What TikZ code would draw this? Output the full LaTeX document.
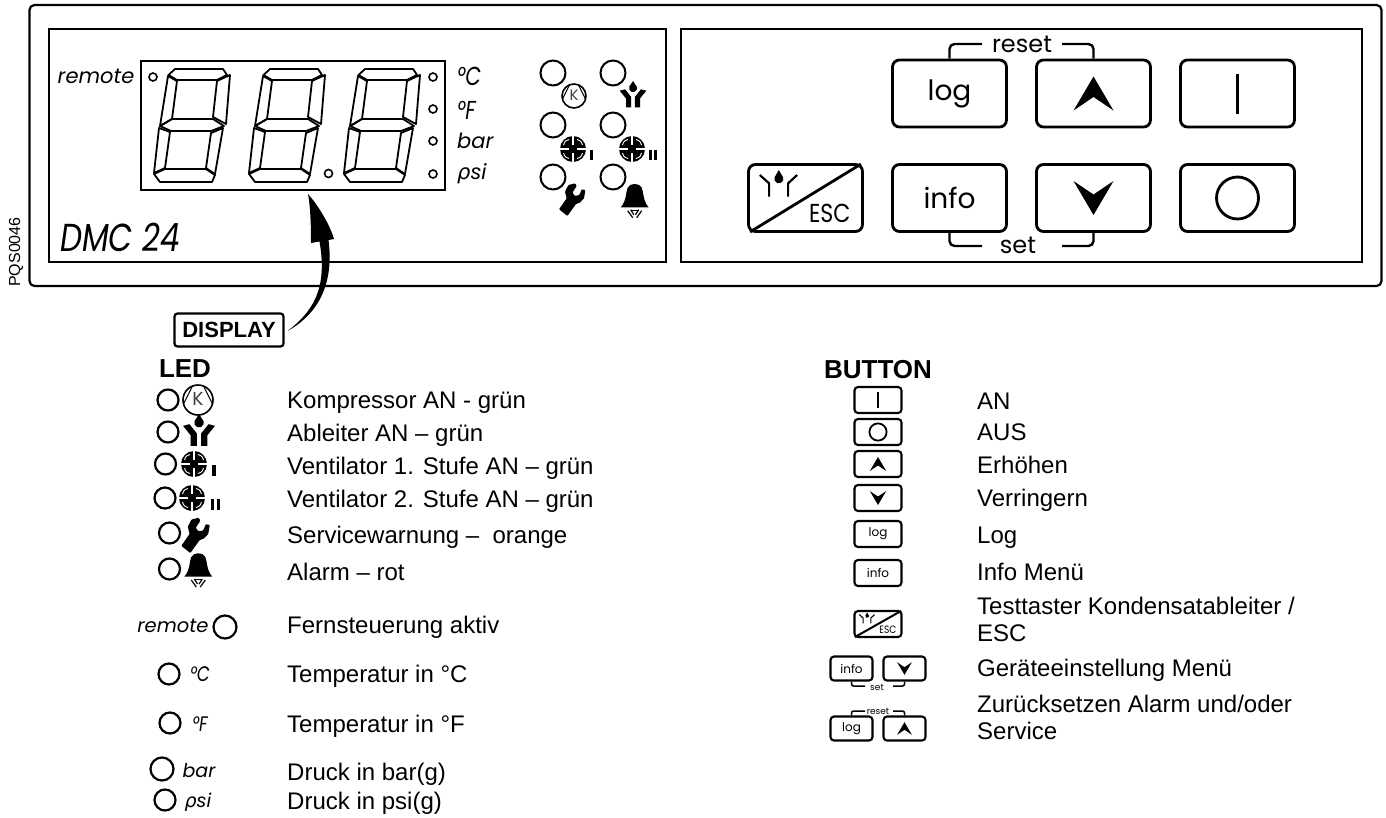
\documentclass[tikz,border=0pt]{standalone}
\usepackage{fontspec}
\setmainfont{Liberation Sans}
\newfontfamily\panelfont{Poppins}
\newfontfamily\greekfont{DejaVu Sans}
\usetikzlibrary{calc,positioning}

\newcommand{\rhosi}{{\greekfont\itshape ρ}si}

\tikzset{
  panelbox/.style={draw,rectangle,line width=2.2pt,inner sep=0pt},
  btn/.style={draw,rectangle,rounded corners=7,line width=2.8pt,inner sep=0pt,minimum width=114,minimum height=67,font=\panelfont\fontsize{28}{28}\selectfont},
  btnsmall/.style={draw,rectangle,rounded corners=3.5,line width=2.1pt,inner sep=0pt,minimum width=47,minimum height=26,font=\panelfont\fontsize{12}{12}\selectfont},
  btnpair/.style={btnsmall,minimum width=42,minimum height=24},
  bracket/.style={line width=2.4pt,rounded corners=5},
  bracketsmall/.style={line width=1.5pt,rounded corners=2},
  bigled/.style={draw,circle,line width=2pt,inner sep=0pt,minimum size=25},
  dotled/.style={draw,circle,line width=1.6pt,inner sep=0pt,minimum size=8},
  legendled/.style={draw,circle,line width=2.2pt,inner sep=0pt,minimum size=21},
  paneltext/.style={inner sep=0pt,font=\panelfont\itshape\fontsize{21}{21}\selectfont},
  unittext/.style={inner sep=0pt,anchor=west,xscale=.78,transform shape,font=\panelfont\itshape\fontsize{26}{26}\selectfont},
  legendmark/.style={inner sep=0pt,font=\panelfont\itshape\fontsize{#1}{#1}\selectfont},
  legendunit/.style={inner sep=0pt,xscale=.8,transform shape,font=\panelfont\itshape\fontsize{21}{21}\selectfont},
  legendplain/.style={anchor=west,inner sep=0pt,align=left,font=\fontsize{24}{27}\selectfont},
  legendtext/.style={legendplain,text height=17,text depth=0},
  headtext/.style={inner sep=0pt,font=\bfseries\fontsize{26}{26}\selectfont},
  % seven segment digit
  pics/digitglyph/.style={code={
    \draw[line width=1.8pt,line join=round] (-21.5,-50) -- (-15,-56) -- (33,-56) -- (37,-50) -- (27,-45) -- (-13,-45) -- cycle;
    \draw[line width=1.8pt,line join=round] (-22,-49) -- (-13,-44) -- (-18,-6) -- (-30,1) -- cycle;
    \draw[line width=1.8pt,line join=round] (40,-50) -- (36,-1) -- (23,-8) -- (27,-44) -- cycle;
    \draw[line width=1.8pt,line join=round] (-30,1) -- (-18,-6) -- (23,-6) -- (34,1) -- (21,6) -- (-19,6) -- cycle;
    \draw[line width=1.8pt,line join=round] (-31,3) -- (-20,7) -- (-25,43) -- (-36,48) -- cycle;
    \draw[line width=1.8pt,line join=round] (33,3) -- (21,8) -- (16,43) -- (25,49) -- cycle;
    \draw[line width=1.8pt,line join=round] (-36,49) -- (-25,44) -- (16,44) -- (25,50) -- (22,57) -- (-30,57) -- cycle;
  }},
  pics/comprglyph/.style={code={
    \draw[line width=1.6pt] (0,0) circle[radius=12];
    \draw[line width=1pt] (-11.5,3) -- (-4.5,-11);
    \draw[line width=1pt] (4.5,-11) -- (11.5,3);
    \node[transform shape,inner sep=0pt,text=black!75,font=\panelfont\fontsize{15}{15}\selectfont] (comprletter) at (0,-.5) {K};
  }},
  pics/drainglyph/.style={code={
    \fill (-13.3,-4.3) -- (-8,-5.7) -- (-1.8,2) -- (-1.8,12.3) -- (-7,12.3) -- (-7,3.5) -- cycle;
    \fill (13.3,-4.3) -- (8,-5.7) -- (1.8,2) -- (1.8,12.3) -- (7,12.3) -- (7,3.5) -- cycle;
    \fill (0,-14) -- (-3.76,-8.27) arc[start angle=200,end angle=-20,radius=4] -- cycle;
  }},
  pics/fanbody/.style={code={
    \fill (0,0) circle[radius=13];
    \draw[white,line width=1.3pt] (-13.5,0) -- (-4,0) (4,0) -- (13.5,0) (0,-13.5) -- (0,-4) (0,4) -- (0,13.5);
    \draw[white,line width=.9pt] (4,-9.5) .. controls (8,-8) .. (9.5,-4);
    \draw[white,line width=.9pt] (9.5,4) .. controls (8,8) .. (4,9.5);
    \draw[white,line width=.9pt] (-4,9.5) .. controls (-8,8) .. (-9.5,4);
    \draw[white,line width=.9pt] (-9.5,-4) .. controls (-8,-8) .. (-4,-9.5);
  }},
  pics/fanone/.style={code={
    \pic {fanbody};
    \fill (16.5,1) rectangle (19.5,11);
  }},
  pics/fantwo/.style={code={
    \pic {fanbody};
    \fill (17,1) rectangle (20,11);
    \fill (22,1) rectangle (25,11);
  }},
  pics/wrenchglyph/.style={code={
    \fill[rounded corners=.8] (-12.7,10) -- (-4.3,16.7) -- (4.3,4.7) -- (8.3,3.3) -- (12.3,-1) -- (13.7,-9.3) -- (10,-10) -- (7.7,-4.3) -- (3.3,-3.3) -- (.7,-6.7) -- (5,-13.3) -- (3.3,-16) -- (-3.3,-14.3) -- (-6.7,-7.7) -- (-5,-1) -- cycle;
  }},
  pics/bellglyph/.style={code={
    \fill (-14,10.7) .. controls (-8,4) and (-9,-5) .. (-7,-9) .. controls (-5,-14) and (5,-14) .. (7,-9) .. controls (9,-5) and (8,4) .. (14,10.7) -- cycle;
    \draw[line width=1.2pt] (-7,14) -- (-2,21) (-4,13) -- (-.8,18) (7,14) -- (2,21) (4,13) -- (.8,18);
    \draw[line width=1.2pt] (-3.5,13.5) -- (3.5,13.5);
  }},
  pics/arrowglyph/.style={code={
    \fill (0,-17) -- (20,17) -- (0,3.5) -- (-20,17) -- cycle;
  }},
  pics/onglyph/.style={code={
    \draw (0,-20) -- (0,20);
  }},
  pics/offglyph/.style={code={
    \draw (0,0) circle[radius=21];
  }},
  pics/escglyph/.style={code={
    \draw (-45.7,-23) -- (-36.4,-14.7) -- (-36.4,-1.3);
    \draw (-8.4,-23) -- (-17.4,-14.7) -- (-17.4,-1.3);
    \fill (-26.7,-28) -- (-30.9,-20.7) arc[start angle=200,end angle=-20,radius=4.5] -- cycle;
    \node[transform shape,xscale=.85,inner sep=0pt,font=\panelfont\fontsize{26}{26}\selectfont] (esclabel) at (24.3,15) {ESC};
  }},
}

\begin{document}
\begin{tikzpicture}[x=1pt,y=-1pt]
\useasboundingbox (0,0) rectangle (1386,817);

% front panel
\node[panelbox,rounded corners=5,minimum width=1352,minimum height=281] (frontpanel) at (705.5,145.5) {};
\node[panelbox,minimum width=617,minimum height=233] (leftpanel) at (357.5,145.5) {};
\node[panelbox,minimum width=681,minimum height=233] (rightpanel) at (1021.5,145.5) {};
\node[panelbox,minimum width=304,minimum height=129] (digitbox) at (293,125.5) {};
\node[rotate=90,inner sep=0pt,font=\fontsize{16}{16}\selectfont] (drawingno) at (16,252) {PQS0046};

\pic at (190,125) {digitglyph};
\pic at (285,125) {digitglyph};
\pic at (380,125) {digitglyph};

\node[dotled] (dotremote) at (153,77) {};
\node[dotled] (dotpoint) at (328.5,173.5) {};
\node[dotled] (dotC) at (433,77) {};
\node[dotled] (dotF) at (433,109) {};
\node[dotled] (dotbar) at (433,141) {};
\node[dotled] (dotpsi) at (433,174) {};

\node[paneltext] (txtremote) at (96,76) {remote};
\node[unittext] (txtC) at (457,76) {°C};
\node[unittext] (txtF) at (457,110) {°F};
\node[paneltext,anchor=west] (txtbar) at (457,141) {bar};
\node[paneltext,anchor=west] (txtpsi) at (457,174) {\rhosi};
\node[inner sep=0pt,xscale=.8,transform shape,font=\panelfont\itshape\fontsize{39}{39}\selectfont] (txtmodel) at (120,237) {DMC 24};

\node[bigled] (ledK) at (553,73) {};
\node[bigled] (ledD) at (613,73) {};
\node[bigled] (ledFa) at (553,125) {};
\node[bigled] (ledFb) at (613,125) {};
\node[bigled] (ledW) at (553,177) {};
\node[bigled] (ledB) at (613,177) {};
\pic at (574,96) {comprglyph};
\pic at (633,95) {drainglyph};
\pic at (573,149) {fanone};
\pic at (632,149) {fantwo};
\pic at (571.7,199.3) {wrenchglyph};
\pic at (634.7,196.7) {bellglyph};

% buttons of the panel
\node[btn] (logbtn) at (949.5,93.5) {log};
\node[btn] (upbtn) at (1093.5,93.5) {};
\node[btn] (onbtn) at (1237.5,93.5) {};
\node[btn] (escbtn) at (805.5,198) {};
\node[btn] (infobtn) at (949.5,198) {info};
\node[btn] (downbtn) at (1093.5,198) {};
\node[btn] (offbtn) at (1237.5,198) {};
\pic at (upbtn.center) {arrowglyph};
\pic[yscale=-1] at (downbtn.center) {arrowglyph};
\pic[line width=2.8pt] at (onbtn.center) {onglyph};
\pic[line width=2.8pt] at (offbtn.center) {offglyph};
\pic[line width=2.2pt] at (escbtn.center) {escglyph};
\draw[line width=2.8pt] ($(escbtn.south west)+(3,-1)$) -- ($(escbtn.north east)+(-3,1)$);

\node[inner sep=0pt,font=\panelfont\fontsize{24}{24}\selectfont] (resettxt) at (1022,44) {reset};
\node[inner sep=0pt,font=\panelfont\fontsize{24}{24}\selectfont] (settxt) at (1018,245) {set};
\coordinate (resetL) at (982,44);
\coordinate (resetR) at (1062,44);
\coordinate (setL) at (982,246);
\coordinate (setR) at (1062,246);
\draw[bracket] (logbtn.north) |- (resetL);
\draw[bracket] (upbtn.north) |- (resetR);
\draw[bracket] (infobtn.south) |- (setL);
\draw[bracket] (downbtn.south) |- (setR);

% display label and its arrow
\node[draw,rectangle,rounded corners=3,line width=2.2pt,inner sep=0pt,minimum width=109,minimum height=33,font=\bfseries\fontsize{22}{22}\selectfont] (displaylabel) at (229,330) {DISPLAY};
\coordinate (arrowtail) at ($(displaylabel.east)+(3,1)$);
\coordinate (arrowtip) at ($(digitbox.south)+(15,3)$);
\fill (arrowtail) .. controls (312,312) and (328,290) .. (319.5,241.5) -- (311,243) .. controls (311,220) and (310,205) .. (arrowtip) .. controls (318,205) and (330,225) .. (334,239) -- (328.5,240) .. controls (333,275) and (325,310) .. (arrowtail) -- cycle;

% LED legend
\node[headtext] (ledhead) at (185,369) {LED};
\node[legendled] (lgK) at (168,400) {};
\node[legendled] (lgD) at (168,432) {};
\node[legendled] (lgFa) at (165.5,464) {};
\node[legendled] (lgFb) at (165,498) {};
\node[legendled] (lgW) at (169.5,533) {};
\node[legendled] (lgB) at (169.5,569) {};
\node[legendled,minimum size=23] (lgremote) at (225,627) {};
\node[legendled] (lgC) at (169,674) {};
\node[legendled] (lgF) at (170,723) {};
\node[legendled,minimum size=23] (lgbar) at (162,769) {};
\node[legendled] (lgpsi) at (165,800) {};
\pic[scale=1.25] at (198,400) {comprglyph};
\pic[scale=1.2] at (199,431) {drainglyph};
\pic[scale=1.12] at (194,464) {fanone};
\pic[scale=1.12] at (192,498) {fantwo};
\pic[scale=1.08] at (195,535) {wrenchglyph};
\pic at (198.3,566) {bellglyph};
\node[legendmark=19.5] (mkremote) at (173,626) {remote};
\node[legendunit] (mkC) at (200,674) {°C};
\node[legendunit] (mkF) at (200,724) {°F};
\node[legendmark=19] (mkbar) at (199,771) {bar};
\node[legendmark=19] (mkpsi) at (198,802) {\rhosi};

\node[legendtext] (lbK) at (287,400) {Kompressor AN - grün};
\node[legendtext] (lbD) at (287,433) {Ableiter AN – grün};
\node[legendtext] (lbFa) at (287,466) {Ventilator 1. Stufe AN – grün};
\node[legendtext] (lbFb) at (287,499) {Ventilator 2. Stufe AN – grün};
\node[legendtext] (lbW) at (287,535) {Servicewarnung – \ orange};
\node[legendtext] (lbB) at (287,572) {Alarm – rot};
\node[legendtext] (lbremote) at (287,625) {Fernsteuerung aktiv};
\node[legendtext] (lbC) at (287,674) {Temperatur in °C};
\node[legendtext] (lbF) at (287,724) {Temperatur in °F};
\node[legendtext] (lbbar) at (287,772) {Druck in bar(g)};
\node[legendtext] (lbpsi) at (287,801) {Druck in psi(g)};

% button legend
\node[headtext] (btnhead) at (878,370) {BUTTON};
\node[btnsmall] (lsOn) at (878,400) {};
\node[btnsmall] (lsOff) at (878,432) {};
\node[btnsmall] (lsUp) at (878,464) {};
\node[btnsmall] (lsDown) at (878,498) {};
\node[btnsmall] (lsLog) at (878,534) {log};
\node[btnsmall] (lsInfo) at (878,573) {info};
\node[btnsmall] (lsEsc) at (878,624) {};
\pic[scale=.41,line width=1.8pt] at (lsOn.center) {onglyph};
\pic[scale=.41,line width=1.8pt] at (lsOff.center) {offglyph};
\pic[scale=.41] at (lsUp.center) {arrowglyph};
\pic[scale=.41,yscale=-1] at (lsDown.center) {arrowglyph};
\pic[scale=.41,line width=1.1pt] at (lsEsc.center) {escglyph};
\draw[line width=2pt] ($(lsEsc.south west)+(1.5,-1)$) -- ($(lsEsc.north east)+(-1.5,1)$);

\node[btnpair] (psInfo) at (851.5,668.5) {info};
\node[btnpair] (psDown) at (904.5,668.5) {};
\pic[scale=.37,yscale=-1] at (psDown.center) {arrowglyph};
\node[inner sep=0pt,font=\panelfont\fontsize{9}{9}\selectfont] (pssettxt) at (877,687) {set};
\coordinate (pssetL) at (865,686);
\coordinate (pssetR) at (893,686);
\draw[bracketsmall] (psInfo.south) |- (pssetL);
\draw[bracketsmall] (psDown.south) |- (pssetR);

\node[btnpair] (prLog) at (851.5,728.5) {log};
\node[btnpair] (prUp) at (904.5,728.5) {};
\pic[scale=.37] at (prUp.center) {arrowglyph};
\node[inner sep=0pt,font=\panelfont\fontsize{9}{9}\selectfont] (prresettxt) at (878,711) {reset};
\coordinate (prresetL) at (865,711);
\coordinate (prresetR) at (893,711);
\draw[bracketsmall] (prLog.north) |- (prresetL);
\draw[bracketsmall] (prUp.north) |- (prresetR);

\node[legendtext] (ltOn) at (977,401) {AN};
\node[legendtext] (ltOff) at (977,432) {AUS};
\node[legendtext] (ltUp) at (977,465) {Erhöhen};
\node[legendtext] (ltDown) at (977,498) {Verringern};
\node[legendtext] (ltLog) at (977,535) {Log};
\node[legendtext] (ltInfo) at (977,572) {Info Menü};
\node[legendplain] (ltEsc) at (977,619.5) {Testtaster Kondensatableiter /\\ESC};
\node[legendtext] (ltSet) at (977,668) {Geräteeinstellung Menü};
\node[legendplain] (ltReset) at (977,717.5) {Zurücksetzen Alarm und/oder\\Service};

\end{tikzpicture}
\end{document}
